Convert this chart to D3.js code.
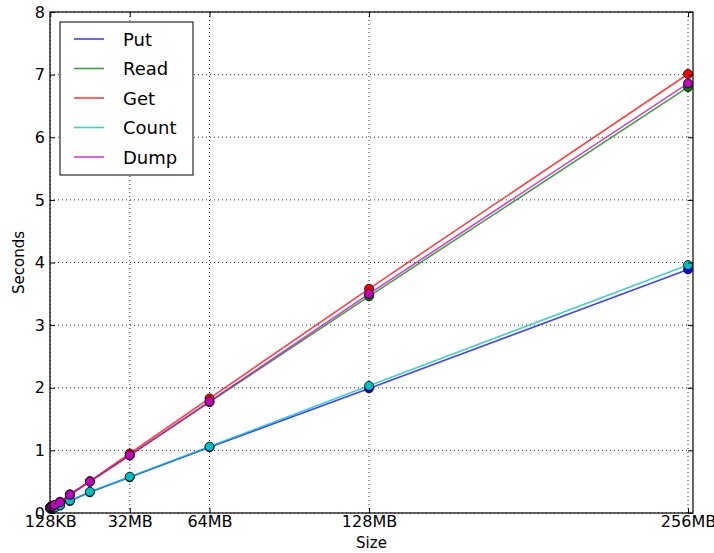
<!DOCTYPE html>
<html><head><meta charset="utf-8">
<script src="https://cdn.jsdelivr.net/npm/d3@7"></script>
<style>body{margin:0;background:#fff;} text{font-family:"DejaVu Sans",sans-serif;}</style>
</head><body><svg id="c" width="714" height="553"></svg>
<script>
const sizes = [0.125, 0.25, 0.5, 1, 2, 4, 8, 16, 32, 64, 128, 256];
const xTickValues = [0.125, 32, 64, 128, 256];
const xTickLabels = ["128KB", "32MB", "64MB", "128MB", "256MB"];
const yTickValues = [0, 1, 2, 3, 4, 5, 6, 7, 8];
const seriesNames = ["Put", "Read", "Get", "Count", "Dump"];
const seriesColors = ["#0000ff", "#008000", "#ff0000", "#00bfbf", "#bf00bf"];
const put   = [0.07, 0.075, 0.08, 0.085, 0.09, 0.12, 0.19, 0.33, 0.57, 1.05, 1.99, 3.89];
const read  = [0.09, 0.095, 0.10, 0.11, 0.13, 0.17, 0.29, 0.50, 0.92, 1.77, 3.46, 6.80];
const get   = [0.09, 0.095, 0.10, 0.11, 0.13, 0.18, 0.30, 0.51, 0.95, 1.83, 3.58, 7.01];
const count = [0.07, 0.075, 0.08, 0.085, 0.09, 0.12, 0.20, 0.34, 0.58, 1.06, 2.03, 3.96];
const dump  = [0.09, 0.095, 0.10, 0.11, 0.13, 0.17, 0.29, 0.50, 0.92, 1.78, 3.50, 6.86];
const seriesValues = [put, read, get, count, dump];

const svg = d3.select("#c");
const L = 50, R = 693, T = 12, B = 513;
const x = d3.scaleLinear().domain([0, 258]).range([L, R]);
const y = d3.scaleLinear().domain([0, 8]).range([B, T]);

// grid
const g = svg.append("g");
g.selectAll(".gx").data(xTickValues).enter().append("line")
  .attr("x1", d => x(d)).attr("x2", d => x(d)).attr("y1", T).attr("y2", B)
  .attr("stroke", "#000").attr("stroke-width", 0.8).attr("stroke-dasharray", "1,3");
g.selectAll(".gy").data(yTickValues).enter().append("line")
  .attr("y1", d => y(d)).attr("y2", d => y(d)).attr("x1", L).attr("x2", R)
  .attr("stroke", "#000").attr("stroke-width", 0.8).attr("stroke-dasharray", "1,3");

// series
const line = d3.line().x((d, i) => x(sizes[i])).y(d => y(d));
seriesValues.forEach((vals, k) => {
  svg.append("path").datum(vals).attr("d", line)
    .attr("fill", "none").attr("stroke", seriesColors[k]).attr("stroke-width", 1.6).attr("stroke-opacity", 0.75);
  svg.selectAll(".m" + k).data(vals).enter().append("circle")
    .attr("cx", (d, i) => x(sizes[i])).attr("cy", d => y(d)).attr("r", 4.5)
    .attr("fill", seriesColors[k]).attr("stroke", "#000").attr("stroke-width", 0.8);
});

// axes
const xb = d3.axisBottom(x).tickValues(xTickValues).tickFormat((d, i) => xTickLabels[i]).tickSizeInner(-5).tickSizeOuter(0).tickPadding(3);
const xt = d3.axisTop(x).tickValues(xTickValues).tickFormat("").tickSizeInner(-5).tickSizeOuter(0);
const yl = d3.axisLeft(y).tickValues(yTickValues).tickFormat(d3.format("d")).tickSizeInner(-5).tickSizeOuter(0).tickPadding(5);
const yr = d3.axisRight(y).tickValues(yTickValues).tickFormat("").tickSizeInner(-5).tickSizeOuter(0);
[[xb, `translate(0,${B})`], [xt, `translate(0,${T})`], [yl, `translate(${L},0)`], [yr, `translate(${R},0)`]].forEach(([a, tr]) => {
  const ag = svg.append("g").attr("transform", tr).call(a);
  ag.select(".domain").remove();
  ag.selectAll("line").attr("stroke", "#000");
  ag.selectAll("text").attr("font-size", 16).attr("fill", "#000").style("font-family", "DejaVu Sans");
});
svg.append("rect").attr("x", L).attr("y", T).attr("width", R - L).attr("height", B - T)
  .attr("fill", "none").attr("stroke", "#000").attr("stroke-width", 1.2);

svg.append("text").attr("x", (L + R) / 2).attr("y", 548).attr("text-anchor", "middle").attr("font-size", 15).text("Size");
svg.append("text").attr("transform", `translate(24,${(T + B) / 2}) rotate(-90)`).attr("text-anchor", "middle").attr("font-size", 15).text("Seconds");

// legend
const lg = svg.append("g");
lg.append("rect").attr("x", 60).attr("y", 22).attr("width", 133).attr("height", 153)
  .attr("fill", "#fff").attr("stroke", "#000").attr("stroke-width", 1);
seriesNames.forEach((n, k) => {
  const yy = 39 + k * 29.5;
  lg.append("line").attr("x1", 74).attr("x2", 104).attr("y1", yy).attr("y2", yy)
    .attr("stroke", seriesColors[k]).attr("stroke-width", 1.6).attr("stroke-opacity", 0.75);
  lg.append("text").attr("x", 123).attr("y", yy + 6.5).attr("font-size", 18).text(n);
});
</script></body></html>
